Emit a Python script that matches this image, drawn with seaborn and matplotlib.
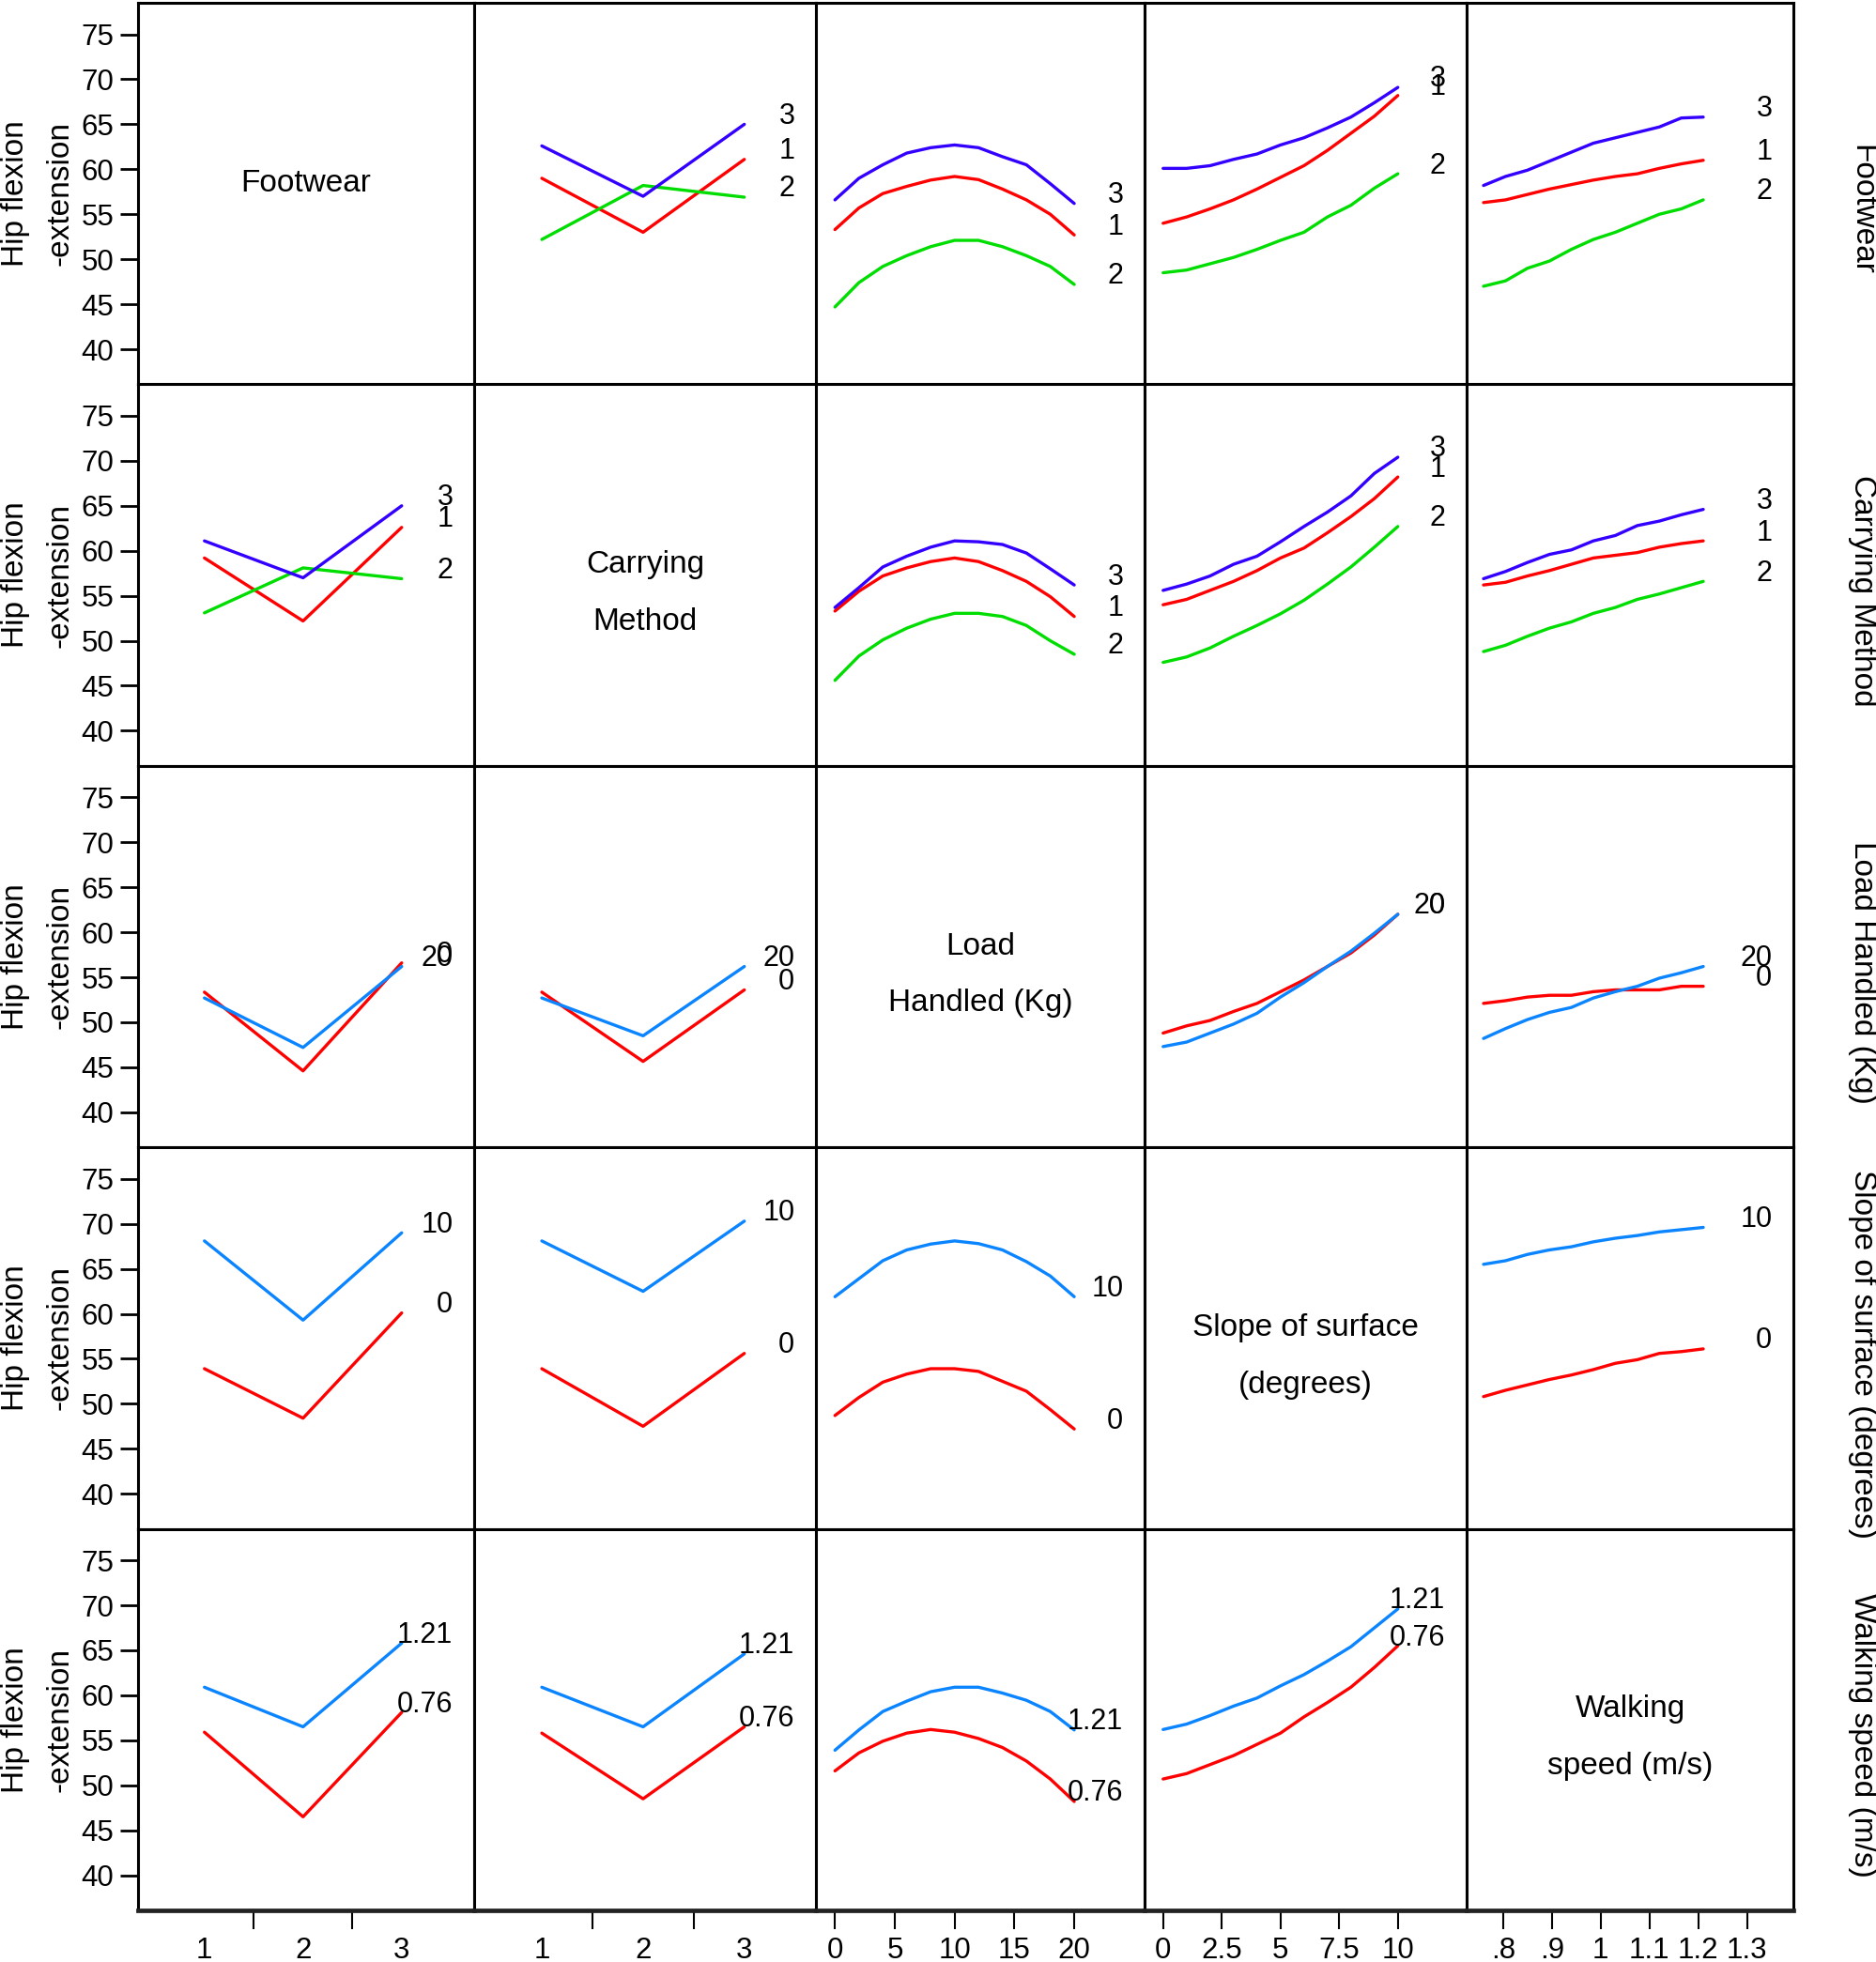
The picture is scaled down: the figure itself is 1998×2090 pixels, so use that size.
import numpy as np
import pandas as pd
import seaborn as sns
import matplotlib
matplotlib.use("Agg")
import matplotlib.pyplot as plt

# ---- factor names ----
row_titles = ["Footwear", "Carrying Method", "Load Handled (Kg)",
              "Slope of surface (degrees)", "Walking speed (m/s)"]
diag_titles = [["Footwear"], ["Carrying", "Method"], ["Load", "Handled (Kg)"],
               ["Slope of surface", "(degrees)"], ["Walking", "speed (m/s)"]]

# ---- x grids of each factor (column variable) ----
footwear_x = [1, 2, 3]
carrying_x = [1, 2, 3]
load_x = [0, 2, 4, 6, 8, 10, 12, 14, 16, 18, 20]
slope_x = [0, 1, 2, 3, 4, 5, 6, 7, 8, 9, 10]
speed_x = [0.76, 0.805, 0.85, 0.895, 0.94, 0.985, 1.03, 1.075, 1.12, 1.165, 1.21]

# ---- levels drawn as lines (row variable) ----
footwear_levels = ["1", "2", "3"]
carrying_levels = ["1", "2", "3"]
load_levels = ["0", "20"]
slope_levels = ["0", "10"]
speed_levels = ["0.76", "1.21"]

# ---- row 1: footwear levels ----
fw_by_carrying = {"1": [59.0, 53.0, 61.1],
                  "2": [52.2, 58.2, 56.9],
                  "3": [62.6, 57.0, 65.0]}
fw_by_load = {"1": [53.3, 55.7, 57.3, 58.1, 58.8, 59.2, 58.85, 57.8, 56.6, 55.0, 52.7],
              "2": [44.7, 47.4, 49.2, 50.4, 51.4, 52.1, 52.1, 51.4, 50.4, 49.2, 47.2],
              "3": [56.6, 59.0, 60.5, 61.8, 62.4, 62.7, 62.4, 61.4, 60.5, 58.4, 56.2]}
fw_by_slope = {"1": [54.0, 54.7, 55.6, 56.6, 57.8, 59.1, 60.4, 62.1, 64.0, 65.9, 68.2],
               "2": [48.5, 48.8, 49.5, 50.2, 51.1, 52.1, 53.0, 54.7, 56.0, 57.9, 59.5],
               "3": [60.1, 60.1, 60.4, 61.1, 61.7, 62.7, 63.5, 64.6, 65.8, 67.4, 69.1]}
fw_by_speed = {"1": [56.3, 56.6, 57.2, 57.8, 58.3, 58.8, 59.2, 59.5, 60.1, 60.6, 61.0],
               "2": [47.0, 47.6, 49.0, 49.8, 51.1, 52.2, 53.0, 54.0, 55.0, 55.6, 56.6],
               "3": [58.2, 59.2, 59.9, 60.9, 61.9, 62.9, 63.5, 64.1, 64.7, 65.7, 65.8]}

# ---- row 2: carrying method levels ----
cm_by_footwear = {"1": [59.2, 52.2, 62.6],
                  "2": [53.1, 58.1, 56.9],
                  "3": [61.1, 57.0, 65.0]}
cm_by_load = {"1": [53.3, 55.5, 57.2, 58.1, 58.8, 59.2, 58.8, 57.8, 56.6, 54.9, 52.7],
              "2": [45.6, 48.3, 50.1, 51.4, 52.4, 53.05, 53.05, 52.7, 51.7, 50.0, 48.5],
              "3": [53.7, 55.9, 58.2, 59.4, 60.4, 61.1, 61.0, 60.7, 59.75, 58.0, 56.2]}
cm_by_slope = {"1": [54.0, 54.6, 55.6, 56.6, 57.8, 59.2, 60.3, 62.0, 63.8, 65.8, 68.2],
               "2": [47.6, 48.2, 49.2, 50.5, 51.7, 53.0, 54.5, 56.3, 58.2, 60.4, 62.7],
               "3": [55.6, 56.3, 57.2, 58.5, 59.4, 61.0, 62.7, 64.3, 66.1, 68.6, 70.4]}
cm_by_speed = {"1": [56.2, 56.5, 57.2, 57.8, 58.5, 59.2, 59.5, 59.8, 60.4, 60.8, 61.1],
               "2": [48.8, 49.5, 50.5, 51.4, 52.1, 53.05, 53.7, 54.6, 55.2, 55.9, 56.6],
               "3": [56.9, 57.7, 58.7, 59.6, 60.1, 61.1, 61.7, 62.8, 63.3, 64.0, 64.6]}

# ---- row 3: load levels ----
load_by_footwear = {"0": [53.35, 44.6, 56.6], "20": [52.7, 47.2, 56.2]}
load_by_carrying = {"0": [53.35, 45.65, 53.6], "20": [52.7, 48.5, 56.2]}
load_by_slope = {"0": [48.8, 49.6, 50.2, 51.2, 52.1, 53.4, 54.7, 56.2, 57.7, 59.7, 62.0],
                 "20": [47.3, 47.8, 48.8, 49.8, 51.0, 52.8, 54.4, 56.2, 57.9, 59.9, 62.0]}
load_by_speed = {"0": [52.1, 52.4, 52.8, 53.0, 53.0, 53.4, 53.6, 53.6, 53.6, 54.0, 54.0],
                 "20": [48.2, 49.3, 50.3, 51.1, 51.65, 52.7, 53.4, 54.0, 54.9, 55.5, 56.2]}

# ---- row 4: slope levels ----
slope_by_footwear = {"0": [53.9, 48.4, 60.1], "10": [68.1, 59.3, 69.0]}
slope_by_carrying = {"0": [53.9, 47.5, 55.6], "10": [68.1, 62.5, 70.3]}
slope_by_load = {"0": [48.7, 50.7, 52.4, 53.3, 53.9, 53.9, 53.6, 52.5, 51.4, 49.35, 47.2],
                 "10": [61.9, 63.9, 65.9, 67.1, 67.75, 68.1, 67.8, 67.1, 65.8, 64.2, 61.9]}
slope_by_speed = {"0": [50.8, 51.5, 52.1, 52.7, 53.2, 53.8, 54.5, 54.9, 55.6, 55.8, 56.1],
                  "10": [65.5, 65.9, 66.6, 67.1, 67.45, 68.0, 68.4, 68.7, 69.1, 69.35, 69.6]}

# ---- row 5: walking speed levels ----
speed_by_footwear = {"0.76": [55.9, 46.5, 58.1], "1.21": [60.9, 56.5, 65.8]}
speed_by_carrying = {"0.76": [55.8, 48.5, 56.5], "1.21": [60.9, 56.5, 64.6]}
speed_by_load = {"0.76": [51.6, 53.6, 54.9, 55.8, 56.2, 55.9, 55.2, 54.2, 52.7, 50.7, 48.2],
                 "1.21": [53.9, 56.15, 58.2, 59.35, 60.4, 60.9, 60.9, 60.25, 59.45, 58.2, 56.15]}
speed_by_slope = {"0.76": [50.7, 51.3, 52.3, 53.3, 54.55, 55.8, 57.6, 59.2, 60.9, 63.1, 65.5],
                  "1.21": [56.2, 56.8, 57.75, 58.8, 59.7, 61.05, 62.3, 63.8, 65.4, 67.5, 69.6]}

# y axis ticks
y_ticks = [40, 45, 50, 55, 60, 65, 70, 75]

# x axis ticks per column
col_ticks = [[1, 2, 3], [1, 2, 3], [0, 5, 10, 15, 20], [0, 2.5, 5, 7.5, 10],
             [0.8, 0.9, 1.0, 1.1, 1.2, 1.3]]
col_ticklabels = [["1", "2", "3"], ["1", "2", "3"], ["0", "5", "10", "15", "20"],
                  ["0", "2.5", "5", "7.5", "10"], [".8", ".9", "1", "1.1", "1.2", "1.3"]]

# ---- assemble ----
x_grids = [footwear_x, carrying_x, load_x, slope_x, speed_x]
row_levels = [footwear_levels, carrying_levels, load_levels, slope_levels, speed_levels]
cells = {
    (0, 1): fw_by_carrying, (0, 2): fw_by_load, (0, 3): fw_by_slope, (0, 4): fw_by_speed,
    (1, 0): cm_by_footwear, (1, 2): cm_by_load, (1, 3): cm_by_slope, (1, 4): cm_by_speed,
    (2, 0): load_by_footwear, (2, 1): load_by_carrying, (2, 3): load_by_slope, (2, 4): load_by_speed,
    (3, 0): slope_by_footwear, (3, 1): slope_by_carrying, (3, 2): slope_by_load, (3, 4): slope_by_speed,
    (4, 0): speed_by_footwear, (4, 1): speed_by_carrying, (4, 2): speed_by_load, (4, 3): speed_by_slope,
}

RED, GREEN, BLUE, LBLUE = "#ff0000", "#00dd00", "#3300ff", "#0a84ff"
three_pal = {"1": RED, "2": GREEN, "3": BLUE}
row_palettes = [three_pal, three_pal,
                {"0": RED, "20": LBLUE}, {"0": RED, "10": LBLUE},
                {"0.76": RED, "1.21": LBLUE}]

col_xlims = [(0.322, 3.735), (0.332, 3.707), (-1.59, 25.88), (-0.79, 12.93), (0.7254, 1.3946)]
ylim = (36.1, 78.5)

sns.set_theme(style="white")
plt.rcParams["font.family"] = ["Liberation Sans", "DejaVu Sans"]

W, H = 1998, 2090
fig = plt.figure(figsize=(W / 100, H / 100), dpi=100)
gs = fig.add_gridspec(5, 5, left=146.5 / W, right=1910 / W, top=1 - 3 / H, bottom=1 - 2035 / H,
                      wspace=0, hspace=0, width_ratios=[358.5, 364, 350, 343, 348])

for r in range(5):
    for c in range(5):
        ax = fig.add_subplot(gs[r, c])
        ax.set_xlim(*col_xlims[c])
        ax.set_ylim(*ylim)

        if (r, c) in cells:
            panel = cells[(r, c)]
            rows = []
            for lev in row_levels[r]:
                for xv, yv in zip(x_grids[c], panel[lev]):
                    rows.append({"x": xv, "y": yv, "level": lev})
            df = pd.DataFrame(rows)
            sns.lineplot(data=df, x="x", y="y", hue="level", hue_order=row_levels[r],
                         palette=row_palettes[r], estimator=None, sort=False,
                         linewidth=2.4, legend=False, ax=ax)
            # level labels at the line ends
            for lev in row_levels[r]:
                ax.annotate(lev, xy=(1, panel[lev][-1]), xycoords=("axes fraction", "data"),
                            xytext=(-16.3, 6.2), textcoords="offset points",
                            ha="right", va="center", fontsize=22, color="black")
        else:
            lines = diag_titles[r]
            ypos = [0.527, 0.377]
            for k, t in enumerate(lines):
                ax.text(0.5, ypos[k], t, transform=ax.transAxes, ha="center",
                        va="center", fontsize=24, color="black")

        ax.set_xlabel("")
        ax.set_ylabel("")
        for sp in ax.spines.values():
            sp.set_visible(True)
            sp.set_color("black")
            sp.set_linewidth(2.2)

        # y ticks only on first column
        if c == 0:
            ax.set_yticks(y_ticks)
            ax.set_yticklabels([str(v) for v in y_ticks])
            ax.tick_params(axis="y", direction="out", length=13.7, width=2.0,
                           pad=4.5, labelsize=22.5, left=True, colors="black")
        else:
            ax.set_yticks([])

        # x ticks only on bottom row
        if r == 4:
            ax.set_xticks(col_ticks[c])
            ax.set_xticklabels(col_ticklabels[c])
            ax.spines["bottom"].set_linewidth(3.4)
            ax.spines["bottom"].set_color("#222222")
            if c < 2:
                # categorical axis: tick marks sit between the categories
                ax.set_xticks([1.5, 2.5], minor=True)
                ax.tick_params(axis="x", which="major", direction="out", length=14.4,
                               width=1.5, color=(0, 0, 0, 0), labelcolor="black",
                               pad=6, labelsize=22.5, bottom=True)
                ax.tick_params(axis="x", which="minor", direction="out", length=14.4,
                               width=1.5, color="black", bottom=True)
            else:
                ax.tick_params(axis="x", direction="out", length=14.4, width=1.5,
                               pad=6, labelsize=22.5, bottom=True, colors="black")
        else:
            ax.set_xticks([])

        # row annotations
        if c == 0:
            pos = ax.get_position()
            yc = (pos.y0 + pos.y1) / 2
            fig.text(16.5 / W, yc, "Hip flexion", rotation=90, ha="center", va="center",
                     fontsize=24, color="black")
            fig.text(64 / W, yc, "-extension", rotation=90, ha="center", va="center",
                     fontsize=24, color="black")
        if c == 4:
            pos = ax.get_position()
            yc = (pos.y0 + pos.y1) / 2 - 17 / H
            fig.text(1983 / W, yc, row_titles[r], rotation=-90, ha="center", va="center",
                     fontsize=24, color="black")

fig.savefig("out.png", dpi=100)
